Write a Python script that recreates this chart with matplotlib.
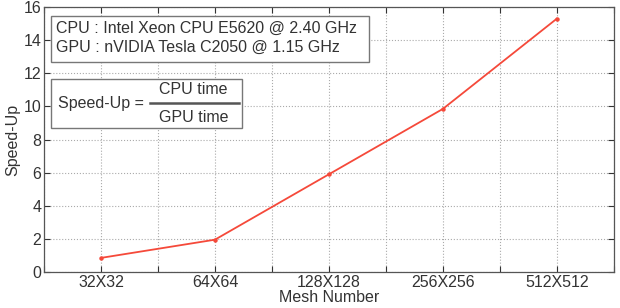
import numpy as np
import matplotlib.pyplot as plt
from matplotlib.patches import Rectangle

plt.rcParams['font.family'] = ['Liberation Sans', 'DejaVu Sans']

mesh_labels = ['32X32', '64X64', '128X128', '256X256', '512X512']
speed_up = [0.85, 1.95, 5.9, 9.85, 15.3]

cpu_info = 'CPU : Intel Xeon CPU E5620 @ 2.40 GHz'
gpu_info = 'GPU : nVIDIA Tesla C2050 @ 1.15 GHz'

fs = 11.5

fig = plt.figure(figsize=(6.2, 3.08), dpi=100)
ax = fig.add_axes([0.071, 0.117, 0.919, 0.860])

x = np.arange(1, len(mesh_labels) + 1)
ax.plot(x, speed_up, color='#f5493a', lw=1.3, marker='o', ms=2.2, zorder=5)

ax.set_xlim(0.5, 5.5)
ax.set_ylim(0, 16)
ticks = np.arange(0.5, 5.51, 0.5)
ax.set_xticks(ticks)
ax.set_xticklabels(['' if t % 1 else mesh_labels[int(t) - 1] for t in ticks])
ax.set_yticks(np.arange(0, 17, 2))
ax.tick_params(direction='in', top=True, right=True, labelsize=fs, colors='#333333',
               length=4, width=0.8, pad=2)
ax.grid(True, ls=':', color='#aaaaaa', lw=0.8)
for s in ax.spines.values():
    s.set_color('#555555')
    s.set_linewidth(0.9)

ax.set_xlabel('Mesh Number', fontsize=fs, color='#333333', labelpad=0)
ax.set_ylabel('Speed-Up', fontsize=fs, color='#333333', labelpad=2)

# hardware info box
ax.add_patch(Rectangle((0.012, 0.792), 0.558, 0.174, transform=ax.transAxes,
                       fc='white', ec='#777777', lw=1.0, zorder=6))
ax.text(0.021, 0.918, cpu_info, transform=ax.transAxes, fontsize=fs,
        color='#333333', va='center', zorder=7)
ax.text(0.021, 0.848, gpu_info, transform=ax.transAxes, fontsize=fs,
        color='#333333', va='center', zorder=7)

# speed-up definition box
ax.add_patch(Rectangle((0.012, 0.543), 0.335, 0.185, transform=ax.transAxes,
                       fc='white', ec='#777777', lw=1.0, zorder=6))
ax.text(0.024, 0.636, 'Speed-Up =', transform=ax.transAxes, fontsize=fs,
        color='#333333', va='center', zorder=7)
ax.text(0.262, 0.690, 'CPU time', transform=ax.transAxes, fontsize=fs,
        color='#333333', va='center', ha='center', zorder=7)
ax.text(0.262, 0.584, 'GPU time', transform=ax.transAxes, fontsize=fs,
        color='#333333', va='center', ha='center', zorder=7)
ax.plot([0.186, 0.342], [0.638, 0.638], transform=ax.transAxes, color='#555555',
        lw=1.8, zorder=7)

fig.savefig('out.png', dpi=100)
